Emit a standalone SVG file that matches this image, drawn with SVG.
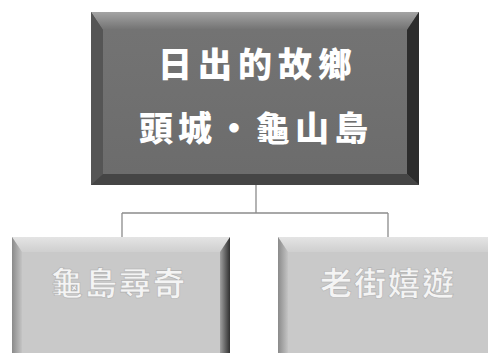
<svg xmlns="http://www.w3.org/2000/svg" width="488" height="353" viewBox="0 0 488 353">
  <defs>
    <linearGradient id="darkTop" x1="0" y1="0" x2="0" y2="1">
      <stop offset="0" stop-color="#a4a4a4"/>
      <stop offset="1" stop-color="#727272"/>
    </linearGradient>
    <linearGradient id="darkFace" x1="0" y1="0" x2="0" y2="1">
      <stop offset="0" stop-color="#737373"/>
      <stop offset="1" stop-color="#6c6c6c"/>
    </linearGradient>
    <linearGradient id="lightTop" x1="0" y1="0" x2="0" y2="1">
      <stop offset="0" stop-color="#e4e4e4"/>
      <stop offset="1" stop-color="#cfcfcf"/>
    </linearGradient>
    <linearGradient id="lightLeft" x1="0" y1="0" x2="1" y2="0">
      <stop offset="0" stop-color="#8a8a8a"/>
      <stop offset="1" stop-color="#c4c4c4"/>
    </linearGradient>
    <linearGradient id="lightRight" x1="0" y1="0" x2="1" y2="0">
      <stop offset="0" stop-color="#a0a0a0"/>
      <stop offset="1" stop-color="#303030"/>
    </linearGradient>
  </defs>
  <style>
    .conn { fill: none; stroke: #8c8c8c; stroke-width: 1.3; }
    .title { font-family: "Noto Sans CJK TC", "Noto Sans CJK SC", sans-serif; font-weight: 900; fill: #ffffff; text-anchor: middle; }
    .sub { font-family: "Noto Sans CJK TC", "Noto Sans CJK SC", sans-serif; font-weight: 700; fill: #f4f4f4; stroke: #b0b0b0; stroke-width: 0.6; text-anchor: middle; }
  </style>

  <g id="connectors">
    <path class="conn" d="M256 185 V213 M122 213 H388 M122 213 V238 M388 213 V238"/>
  </g>

  <g id="node-top">
    <rect x="91" y="12" width="328" height="173" fill="#5a5a5a"/>
    <polygon points="91,12 419,12 407,30 103,30" fill="url(#darkTop)"/>
    <polygon points="91,12 103,30 103,174 91,185" fill="#555555"/>
    <polygon points="419,12 419,185 407,174 407,30" fill="#2c2c2c"/>
    <polygon points="91,185 103,174 407,174 419,185" fill="#454545"/>
    <rect x="103" y="30" width="304" height="144" fill="url(#darkFace)"/>
    <text class="title" x="258" y="77" font-size="34" letter-spacing="6">日出的故鄉</text>
    <text class="title" x="256" y="141" font-size="34" letter-spacing="5">頭城・龜山島</text>
  </g>

  <g id="node-left">
    <rect x="12" y="237" width="218" height="120" fill="#c8c8c8"/>
    <polygon points="12,237 230,237 220,252 22,252" fill="url(#lightTop)"/>
    <polygon points="12,237 22,252 22,353 12,353" fill="url(#lightLeft)"/>
    <polygon points="230,237 230,353 220,353 220,252" fill="url(#lightRight)"/>
    <rect x="22" y="252" width="198" height="101" fill="#c9c9c9"/>
    <text class="sub" x="119" y="295" font-size="32" letter-spacing="2">龜島尋奇</text>
  </g>

  <g id="node-right">
    <rect x="278" y="237" width="220" height="120" fill="#c8c8c8"/>
    <polygon points="278,237 498,237 488,252 288,252" fill="url(#lightTop)"/>
    <polygon points="278,237 288,252 288,353 278,353" fill="url(#lightLeft)"/>
    <rect x="288" y="252" width="200" height="101" fill="#c9c9c9"/>
    <text class="sub" x="388" y="295" font-size="32" letter-spacing="2">老街嬉遊</text>
  </g>
</svg>
